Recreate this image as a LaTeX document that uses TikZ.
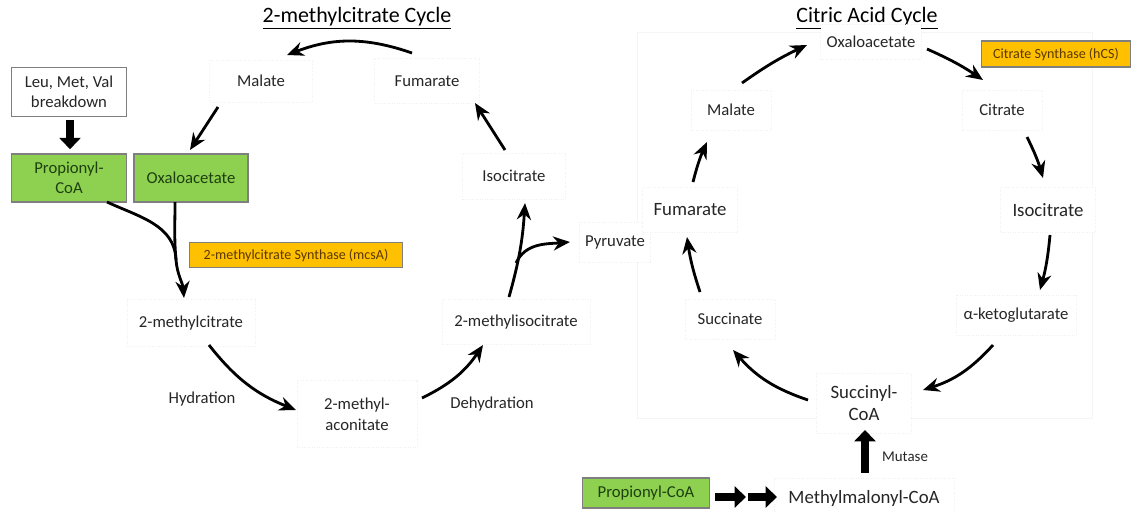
\documentclass[tikz,border=0pt]{standalone}
\usepackage{fontspec}
\setmainfont{Carlito}
\usetikzlibrary{arrows.meta, positioning}

\definecolor{subgreen}{HTML}{8ED150}
\definecolor{subtext}{HTML}{1E4010}
\definecolor{enzorange}{HTML}{FFC000}
\definecolor{enztext}{HTML}{5A3800}
\definecolor{boxgray}{HTML}{7F7F7F}

\tikzset{
  metab/.style={draw=black!6, densely dotted, fill=white, text=black!85, align=center, font=\fontsize{9.5}{12}\selectfont},
  bigmetab/.style={metab, font=\fontsize{10.7}{13}\selectfont},
  feed/.style={draw=boxgray, solid, line width=0.9pt, fill=white, text=black!85, align=center, font=\fontsize{9.5}{11.5}\selectfont},
  substrate/.style={feed, fill=subgreen, text=subtext},
  enzyme/.style={draw=boxgray, line width=0.8pt, fill=enzorange, text=enztext, font=\fontsize{8}{9}\selectfont},
  rxn/.style={text=black!85, font=\fontsize{9.5}{11}\selectfont},
  cycletitle/.style={font=\fontsize{12.5}{15}\selectfont},
  flow/.style={line width=1.6pt, -{Stealth[length=9.5pt,width=8pt]}},
  fatflow/.style={line width=4.5pt, -{Triangle[length=6.5pt,width=12pt]}},
}

\begin{document}
\begin{tikzpicture}[x=0.02cm,y=0.02cm]
\useasboundingbox (0,0) rectangle (1133,512);
%faint frame round the citric acid cycle
\draw[black!4] (637,94) rectangle (1092,480);
%titles
\node[cycletitle] (title1) at (357,494) {\underline{2-methylcitrate Cycle}};
\node[cycletitle] (title2) at (867,494) {\underline{Citric Acid Cycle}};

%2-methylcitrate cycle nodes
\node[feed, minimum width=2.3cm, minimum height=0.98cm] (leu) at (69,420) {Leu, Met, Val\\breakdown};
\node[substrate, minimum width=2.3cm, minimum height=0.96cm] (prop1) at (69,334) {Propionyl-\\CoA};
\node[substrate, minimum width=2.28cm, minimum height=0.96cm] (oxa1) at (191,334) {Oxaloacetate};
\node[metab, minimum width=2.06cm, minimum height=0.84cm] (mal1) at (261,431) {Malate};
\node[metab, minimum width=2.1cm, minimum height=0.9cm] (fum1) at (427,431) {Fumarate};
\node[metab, minimum width=2.06cm, minimum height=0.92cm] (iso1) at (514,336) {Isocitrate};
\node[metab, minimum width=2.56cm, minimum height=0.94cm] (mc) at (191,189) {2-methylcitrate};
\node[metab, minimum width=2.96cm, minimum height=0.9cm] (mic) at (516,190) {2-methylisocitrate};
\node[metab, minimum width=2.4cm, minimum height=1.34cm] (mac) at (357,98) {2-methyl-\\aconitate};
\node[metab, minimum height=0.8cm] (pyr) at (615,270) {Pyruvate};
\node[enzyme, minimum width=4.26cm, minimum height=0.5cm] (mcsA) at (296,257) {2-methylcitrate Synthase (mcsA)};
\node[rxn] (hyd) at (202,113) {Hydration};
\node[rxn] (dehyd) at (492,108) {Dehydration};

%2-methylcitrate cycle connectors
\coordinate (join) at (176,252);
\coordinate (fork) at (516,249);
\draw[fatflow] ([shift={(1,-3)}]leu.south) -- ([shift={(1,4)}]prop1.north);
\draw[flow] ([shift={(-15,28)}]fum1.center) to[bend right=20] ([shift={(26,26)}]mal1.center);
\draw[flow] ([shift={(-43,-26)}]mal1.center) -- ([shift={(-1,28)}]oxa1.center);
\draw[line width=1.6pt] ([shift={(38,-24)}]prop1.center) to[out=-25,in=92] (join);
\draw[line width=1.6pt] ([shift={(-16,-24)}]oxa1.center) to[out=-90,in=95] (join);
\draw[flow] (join) to[out=-85,in=95] ([shift={(-7,25)}]mc.center);
\draw[flow] ([shift={(18,-22)}]mc.center) to[bend right=15] ([shift={(-61,4)}]mac.center);
\draw[flow] ([shift={(65,16)}]mac.center) to[bend right=15] ([shift={(-33,-23)}]mic.center);
\draw[flow] ([shift={(-7,25)}]mic.center) to[bend right=6] ([shift={(11,-27)}]iso1.center);
\draw[flow] (fork) to[out=65,in=185] ([shift={(-9,0)}]pyr.west);
\draw[flow] ([shift={(-9,26)}]iso1.center) -- ([shift={(48,-22)}]fum1.center);

%citric acid cycle nodes
\node[metab, minimum width=1.9cm, minimum height=0.7cm] (oxa2) at (871,470) {Oxaloacetate};
\node[enzyme, minimum width=2.98cm, minimum height=0.52cm] (hcs) at (1056,458) {Citrate Synthase (hCS)};
\node[metab, minimum width=1.6cm, minimum height=0.8cm] (mal2) at (731,402) {Malate};
\node[metab, minimum width=1.6cm, minimum height=0.8cm] (cit2) at (1002,402) {Citrate};
\node[bigmetab, minimum width=1.9cm, minimum height=0.9cm] (fum2) at (690,302) {Fumarate};
\node[bigmetab, minimum width=1.9cm, minimum height=0.9cm] (iso2) at (1048,302) {Isocitrate};
\node[metab, minimum width=1.8cm, minimum height=0.8cm] (suc2) at (730,193) {Succinate};
\node[metab, minimum width=2.4cm, minimum height=0.8cm] (akg) at (1016,197) {α-ketoglutarate};
\node[bigmetab, minimum width=1.9cm, minimum height=1.2cm] (sca) at (864,109) {Succinyl-\\CoA};
\node[bigmetab, minimum width=3.6cm, minimum height=0.8cm] (mmc) at (864,14) {Methylmalonyl-CoA};
\node[substrate, minimum width=2.54cm, minimum height=0.6cm] (prop2) at (646,19) {Propionyl-CoA};
\node[rxn, font=\fontsize{8.5}{10}\selectfont] (mutase) at (905,55) {Mutase};

%citric acid cycle connectors
\coordinate (mid) at (746,15);
\draw[flow] ([shift={(11,27)}]mal2.center) to[bend left=5] ([shift={(-64,-3)}]oxa2.center);
\draw[flow] ([shift={(56,-7)}]oxa2.center) to[bend left=5] ([shift={(-19,30)}]cit2.center);
\draw[flow] ([shift={(25,-27)}]cit2.center) to[bend left=5] ([shift={(-5,32)}]iso2.center);
\draw[flow] ([shift={(2,-25)}]iso2.center) to[bend left=5] ([shift={(24,25)}]akg.center);
\draw[flow] ([shift={(-23,-30)}]akg.center) to[bend left=15] ([shift={(59,13)}]sca.center);
\draw[flow] ([shift={(-56,3)}]sca.center) to[bend left=15] ([shift={(3,-31)}]suc2.center);
\draw[flow] ([shift={(-30,27)}]suc2.center) to[bend left=5] ([shift={(-3,-27)}]fum2.center);
\draw[flow] ([shift={(3,28)}]fum2.center) to[bend left=5] ([shift={(-24,-32)}]mal2.center);
\draw[fatflow] ([shift={(1,25)}]mmc.center) -- ([shift={(1,-27)}]sca.center);
\draw[fatflow] ([shift={(69,-4)}]prop2.center) -- (mid);
\draw[fatflow] ([shift={(2,0)}]mid) -- ([shift={(-87,1)}]mmc.center);
\end{tikzpicture}
\end{document}
